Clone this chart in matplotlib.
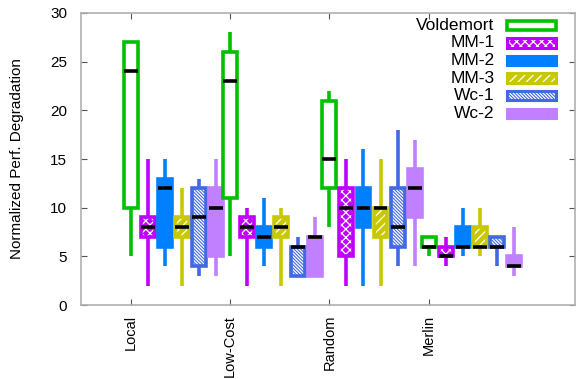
"""Box plot of normalized performance degradation per placement strategy."""
import matplotlib
matplotlib.use("Agg")
import matplotlib.pyplot as plt
from matplotlib.patches import Rectangle

plt.rcParams["font.family"] = ["Liberation Sans", "DejaVu Sans"]
plt.rcParams["hatch.linewidth"] = 0.9

groups = ["Local", "Low-Cost", "Random", "Merlin"]
series = ["Voldemort", "MM-1", "MM-2", "MM-3", "Wc-1", "Wc-2"]

# per series: one (whisker_lo, box_lo, median, box_hi, whisker_hi) per group
stats = {
    "Voldemort": [(5, 10, 24, 27, 27), (5, 11, 23, 26, 28), (8, 12, 15, 21, 22), (5, 6, 6, 7, 7)],
    "MM-1":      [(2, 7, 8, 9, 15), (2, 7, 8, 9, 10), (2, 5, 10, 12, 15), (4, 5, 5, 6, 7)],
    "MM-2":      [(4, 6, 12, 13, 15), (4, 6, 7, 8, 11), (2, 8, 10, 12, 16), (5, 6, 6, 8, 10)],
    "MM-3":      [(2, 7, 8, 9, 12), (2, 7, 8, 9, 10), (2, 7, 10, 10, 15), (5, 6, 6, 8, 10)],
    "Wc-1":      [(3, 4, 9, 12, 13), (3, 3, 6, 6, 7), (4, 6, 8, 12, 18), (4, 6, 6, 7, 7)],
    "Wc-2":      [(3, 5, 10, 12, 15), (3, 3, 7, 7, 9), (4, 9, 12, 14, 17), (3, 4, 4, 5, 8)],
}

COLORS = {"Voldemort": "#00c000", "MM-1": "#c000ff", "MM-2": "#0080ff",
          "MM-3": "#c8c800", "Wc-1": "#4169e1", "Wc-2": "#c080ff"}
HATCH = {"Voldemort": None, "MM-1": "xxxx", "MM-2": None,
         "MM-3": "////", "Wc-1": "\\" * 10, "Wc-2": None}
FILLED = {"Voldemort": False, "MM-1": True, "MM-2": True,
          "MM-3": True, "Wc-1": True, "Wc-2": True}

STEP, W, LW = 0.172, 0.14, 2.6


def draw_box(ax, x, s, st):
    lo, q1, med, q3, hi = st
    c = COLORS[s]
    ax.plot([x, x], [lo, q1], color=c, lw=LW, solid_capstyle="butt", zorder=2)
    ax.plot([x, x], [q3, hi], color=c, lw=LW, solid_capstyle="butt", zorder=2)
    if q3 > q1:
        if FILLED[s]:
            ax.add_patch(Rectangle((x - W / 2, q1), W, q3 - q1, facecolor=c,
                                   edgecolor="white", hatch=HATCH[s], lw=0, zorder=3))
            ax.add_patch(Rectangle((x - W / 2, q1), W, q3 - q1, fill=False,
                                   edgecolor=c, lw=LW, zorder=4))
        else:
            ax.add_patch(Rectangle((x - W / 2, q1), W, q3 - q1, facecolor="white",
                                   edgecolor=c, lw=LW, zorder=4))
    ax.plot([x - W / 2, x + W / 2], [med, med], color="black", lw=2.6,
            solid_capstyle="butt", zorder=5)


fig = plt.figure(figsize=(5.76, 3.79), dpi=100)
ax = fig.add_axes([0.1406, 0.195, 0.857, 0.7707])

for gi, g in enumerate(groups):
    for si, s in enumerate(series):
        draw_box(ax, gi + 1 + si * STEP, s, stats[s][gi])

ax.set_xlim(0.5, 5.47)
ax.set_ylim(0, 30)
ax.set_yticks(range(0, 31, 5))
ax.set_xticks(range(1, len(groups) + 1))
ax.set_xticklabels(groups, rotation=90, fontsize=10.5)
ax.tick_params(axis="y", labelsize=11, pad=10)
ax.tick_params(axis="x", pad=7)
ax.tick_params(direction="in", length=4, width=0.8, color="#555555",
               top=True, right=True)
for sp in ax.spines.values():
    sp.set_color("#b0b0b0")
    sp.set_linewidth(1.2)
ax.set_ylabel("Normalized Perf. Degradation", fontsize=11, labelpad=19)

# legend: label right-aligned, sample on the right
for i, s in enumerate(series):
    yc = 0.958 - i * 0.0603
    c = COLORS[s]
    ax.text(0.838, yc, s, transform=ax.transAxes, ha="right", va="center", fontsize=12.5)
    kw = dict(transform=ax.transAxes, clip_on=False)
    box = ((0.864, yc - 0.016), 0.099, 0.032)
    if FILLED[s]:
        ax.add_patch(Rectangle(*box, facecolor=c, edgecolor="white",
                               hatch=HATCH[s], lw=0, zorder=6, **kw))
        ax.add_patch(Rectangle(*box, fill=False, edgecolor=c, lw=2.2, zorder=7, **kw))
    else:
        ax.add_patch(Rectangle(*box, facecolor="white", edgecolor=c, lw=2.6,
                               zorder=7, **kw))

fig.savefig("out.png", dpi=100, facecolor="white")
